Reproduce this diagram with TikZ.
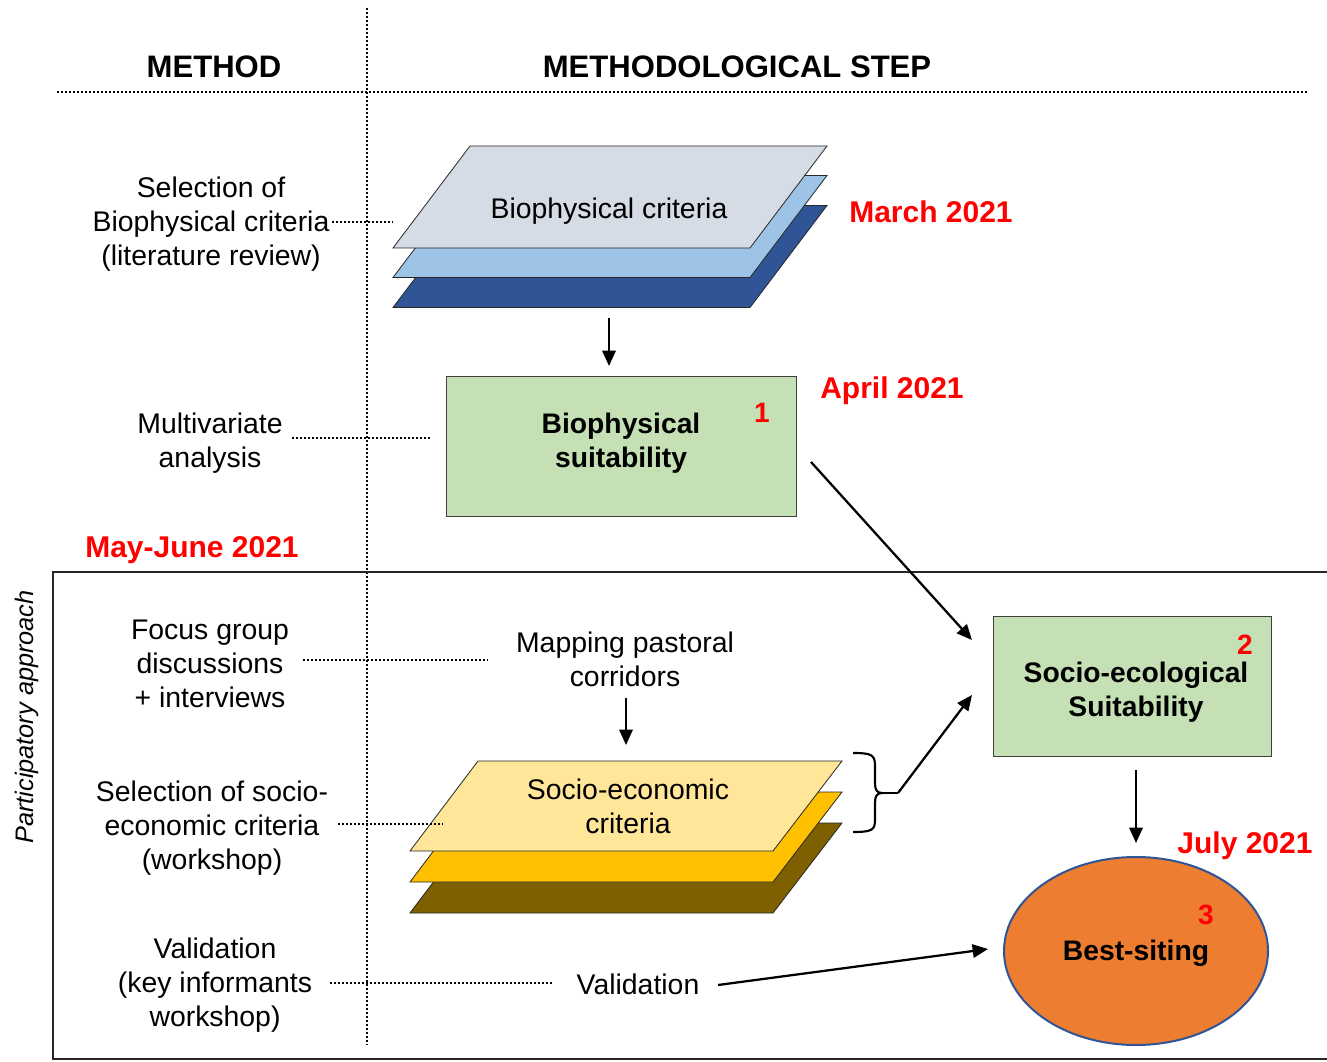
\documentclass[tikz,border=0pt]{standalone}
\usepackage{fontspec}
\setmainfont{Liberation Sans}
\usetikzlibrary{arrows.meta,shapes.geometric}
\definecolor{bioA}{HTML}{D6DCE5}
\definecolor{bioB}{HTML}{9DC3E6}
\definecolor{bioC}{HTML}{2F5597}
\definecolor{socA}{HTML}{FFE699}
\definecolor{socB}{HTML}{FFC000}
\definecolor{socC}{HTML}{7F6000}
\definecolor{gfill}{HTML}{C5E0B4}
\definecolor{ofill}{HTML}{ED7D31}
\definecolor{oline}{HTML}{2F5597}
\definecolor{dred}{HTML}{FF0000}
\begin{document}
\begin{tikzpicture}[x=0.75pt,y=-0.75pt,
  txt/.style={font=\fontsize{21.3}{25.5}\selectfont, align=center, inner sep=0pt},
  hd/.style={font=\fontsize{23.3}{28}\selectfont\bfseries, inner sep=0pt},
  datelbl/.style={font=\fontsize{22.5}{27}\selectfont\bfseries, text=dred, inner sep=0pt},
  num/.style={font=\fontsize{21}{25}\selectfont\bfseries, text=dred, inner sep=0pt},
  boxtxt/.style={font=\fontsize{21.2}{25.5}\selectfont\bfseries, align=center, inner sep=0pt},
  dots/.style={line width=1.4pt, dash pattern=on 1.4pt off 1.6pt},
  arr/.style={line width=1.7pt, -{Triangle[length=11.5pt,width=10pt]}},
  gbox/.style={draw=black!75, fill=gfill, line width=0.9pt},
  layer/.style={draw=black!85, line width=0.6pt}]
\useasboundingbox (0,0) rectangle (1327,1062);

% header
\node[hd] (hmethod) at (214,67) {METHOD};
\node[hd] (hstep) at (737,67) {METHODOLOGICAL STEP};
\coordinate (hl1) at (57,92); \coordinate (hl2) at (1308,92);
\draw[dots] (hl1) -- (hl2);
\coordinate (vl1) at (367,8); \coordinate (vl2) at (367,1045);
\draw[dots] (vl1) -- (vl2);

% participatory frame
\draw[black!85, line width=0.9pt] (1327,572) -- (53,572) -- (53,1059) -- (1327,1059);
\node[txt, font=\fontsize{19}{23}\selectfont\itshape, rotate=90] (part) at (27,717) {Participatory approach};

% biophysical stack
\foreach \dy/\c in {59.5/bioC,29.5/bioB,0/bioA}
  \draw[layer, fill=\c] (393,{248+\dy}) -- (750,{248+\dy}) -- (827,{146+\dy}) -- (470,{146+\dy}) -- cycle;
\node[txt] (biocrit) at (609,211) {Biophysical criteria};
\node[datelbl] (march) at (931,212) {March 2021};

% biophysical suitability
\node[gbox, minimum width=263pt, minimum height=105.5pt, inner sep=0pt] (bs) at (621.5,446.5) {};
\node[boxtxt] (bstxt) at (621,443) {Biophysical\\suitability};
\node[num] (n1) at (762,413) {1};
\node[datelbl] (april) at (892,391) {April 2021};
\coordinate (a1s) at (609,318); \coordinate (a1e) at (609,366);
\draw[arr] (a1s) -- (a1e);

% socio-ecological suitability
\node[gbox, minimum width=209pt, minimum height=105.5pt, inner sep=0pt] (se) at (1132.5,686.5) {};
\node[boxtxt] (setxt) at (1136,692) {Socio-ecological\\Suitability};
\node[num] (n2) at (1245,645) {2};
\coordinate (a2s) at (811,462); \coordinate (a2e) at (972,640);
\draw[arr] (a2s) -- (a2e);

% best siting
\node[ellipse, draw=oline, fill=ofill, line width=1.5pt, minimum width=198pt, minimum height=141pt, inner sep=0pt] (best) at (1136,951) {};
\node[boxtxt] (besttxt) at (1136,953) {Best-siting};
\node[num] (n3) at (1206,915) {3};
\node[datelbl] (july) at (1245,846) {July 2021};
\coordinate (a3s) at (1136,770); \coordinate (a3e) at (1136,843);
\draw[arr] (a3s) -- (a3e);

% may-june
\node[datelbl] (may) at (192,550) {May-June 2021};

% left method texts
\node[txt] (m1) at (211,224) {Selection of\\Biophysical criteria\\(literature review)};
\coordinate (d1a) at (332,222); \coordinate (d1b) at (393,222);
\draw[dots] (d1a) -- (d1b);

\node[txt] (m2) at (210,443) {Multivariate\\analysis};
\coordinate (d2a) at (292,438); \coordinate (d2b) at (430,438);
\draw[dots] (d2a) -- (d2b);

\node[txt] (m3) at (210,664) {Focus group\\discussions\\+ interviews};
\coordinate (d3a) at (303,660); \coordinate (d3b) at (488,660);
\draw[dots] (d3a) -- (d3b);

\node[txt] (m4) at (212,828) {Selection of socio-\\economic criteria\\(workshop)};
\coordinate (d4a) at (338,824); \coordinate (d4b) at (443,824);

\node[txt] (m5) at (215,985) {Validation\\(key informants\\workshop)};
\coordinate (d5a) at (330,983); \coordinate (d5b) at (553,983);
\draw[dots] (d5a) -- (d5b);

% mapping pastoral corridors
\node[txt] (map) at (625,659) {Mapping pastoral\\corridors};
\coordinate (a4s) at (626,698); \coordinate (a4e) at (626,745);
\draw[arr] (a4s) -- (a4e);

% socio-economic stack
\foreach \dy/\c in {62/socC,31/socB,0/socA}
  \draw[layer, fill=\c] (410,{851+\dy}) -- (773,{851+\dy}) -- (842,{761+\dy}) -- (478,{761+\dy}) -- cycle;
\draw[dots] (d4a) -- (d4b);
\node[txt] (soccrit) at (628,806) {Socio-economic\\criteria};

% brace and arrow
\coordinate (bt) at (898,793);
\draw[line width=1.6pt] (853,753) .. controls (872,753) and (875,755) .. (875,766) -- (875,783) .. controls (875,790) and (877,793) .. (882,793)
  .. controls (877,793) and (875,796) .. (875,803) -- (875,820) .. controls (875,830) and (872,832) .. (853,832);
\draw[line width=1.6pt] (882,793) -- (bt);
\coordinate (a5e) at (972,695);
\draw[arr] (bt) -- (a5e);

% validation
\node[txt] (val) at (638,984) {Validation};
\coordinate (a6s) at (718,985); \coordinate (a6e) at (988,949);
\draw[arr] (a6s) -- (a6e);
\end{tikzpicture}
\end{document}
